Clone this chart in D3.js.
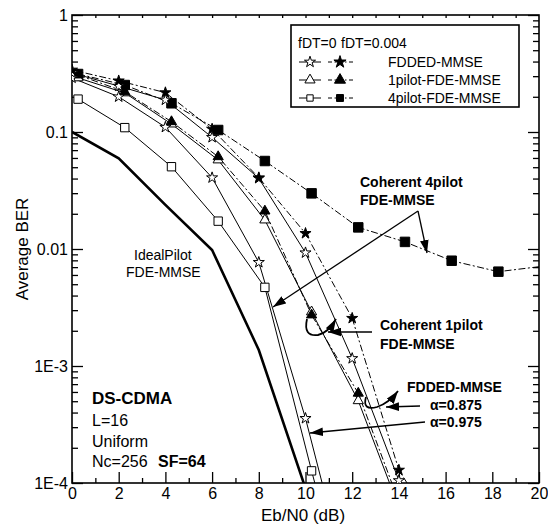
<!DOCTYPE html>
<html>
<head>
<meta charset="utf-8">
<script src="https://cdn.jsdelivr.net/npm/d3@7"></script>
<style>
  html, body { margin: 0; padding: 0; background: #fff; }
  svg { display: block; font-family: "Liberation Sans", Arial, sans-serif; }
</style>
</head>
<body>
<svg id="chart" width="548" height="532"></svg>
<script>
// ---------- data ----------
const xTickValues = [0, 2, 4, 6, 8, 10, 12, 14, 16, 18, 20];
const yTickValues = [1e-4, 1e-3, 1e-2, 1e-1, 1];
const yTickLabels = ["1E-4", "1E-3", "0.01", "0.1", "1"];

const ebnoStar  = [0, 2, 4, 6, 8, 10, 12, 14, 16];
const ebnoPilot = [0.26, 2.26, 4.26, 6.26, 8.26, 10.26, 12.26, 14.26, 16.26, 18.26, 20.26];
const ebnoIdeal = [0, 2, 4, 6, 8, 10];

const berIdeal = [0.1, 0.0596, 0.0238, 0.0098, 0.00137, 9e-5];
// FDDED-MMSE
const berFDDEDa975fd0   = [0.29, 0.20, 0.11, 0.0407, 0.00769, 3.57e-4, 1.0e-5];
const berFDDEDa875fd0   = [0.32, 0.247, 0.188, 0.090, 0.0402, 0.00929, 0.00116, 1.05e-4, 1.0e-5];
const berFDDEDa875fd004 = [0.339, 0.274, 0.217, 0.106, 0.0407, 0.0136, 0.00256, 1.29e-4, 3.0e-5];
// 1pilot-FDE-MMSE
const ber1pilotFd0   = [0.29, 0.216, 0.117, 0.0577, 0.0177, 0.0029, 5.05e-4, 4.5e-5];
const ber1pilotFd004 = [0.307, 0.221, 0.1225, 0.0615, 0.0211, 0.00273, 5.85e-4, 5.0e-5];
// 4pilot-FDE-MMSE
const ber4pilotFd0   = [0.191, 0.109, 0.0505, 0.0173, 0.0047, 1.27e-4, 4.0e-6];
const ber4pilotFd004 = [0.313, 0.252, 0.176, 0.104, 0.0565, 0.0299, 0.0153, 0.0115, 0.00794, 0.0064, 0.00716];

const legendHeader = ["fDT=0", "fDT=0.004"];
const legendLabels = ["FDDED-MMSE", "1pilot-FDE-MMSE", "4pilot-FDE-MMSE"];

// ---------- setup ----------
const svg = d3.select("#chart");
const L = 72, R = 539, T = 15, B = 483;
const x = d3.scaleLinear().domain([0, 20]).range([L, R]);
const y = d3.scaleLog().domain([1e-4, 1]).range([B, T]);
const DASHDOT = "7,2.5,2,2.5";
const FONT = "'Liberation Sans', Arial, sans-serif";

const defs = svg.append("defs");
defs.append("clipPath").attr("id", "clip")
  .append("rect").attr("x", L).attr("y", T).attr("width", R - L).attr("height", B - T);
defs.append("marker").attr("id", "arrow")
  .attr("viewBox", "0 0 12 8").attr("refX", 12).attr("refY", 4)
  .attr("markerWidth", 13).attr("markerHeight", 9)
  .attr("markerUnits", "userSpaceOnUse").attr("orient", "auto")
  .append("path").attr("d", "M0,0 L12,4 L0,8 Z").attr("fill", "#000");

// ---------- axes ----------
const minorX = d3.range(1, 20, 2);
const minorY = [];
for (let e = -4; e < 0; e++) for (let m = 2; m <= 9; m++) minorY.push(m * Math.pow(10, e));

function styleAxis(g) {
  g.select(".domain").remove();
  g.selectAll("line").attr("stroke", "#000").attr("stroke-width", 1.3);
  g.selectAll("text").attr("fill", "#000").style("font-family", FONT).style("font-size", "16px");
}

// bottom
svg.append("g").attr("transform", `translate(0,${B})`)
  .call(d3.axisBottom(x).tickValues(xTickValues).tickSize(-11).tickPadding(5).tickFormat(d3.format("d")))
  .call(styleAxis);
svg.append("g").attr("transform", `translate(0,${B})`)
  .call(d3.axisBottom(x).tickValues(minorX).tickSize(-5).tickFormat(""))
  .call(styleAxis);
// top
svg.append("g").attr("transform", `translate(0,${T})`)
  .call(d3.axisTop(x).tickValues(d3.range(1, 20)).tickSize(-3).tickFormat(""))
  .call(styleAxis);
// left
svg.append("g").attr("transform", `translate(${L},0)`)
  .call(d3.axisLeft(y).tickValues(yTickValues).tickSize(-11).tickPadding(4)
    .tickFormat((d, i) => yTickLabels[i]))
  .call(styleAxis);
svg.append("g").attr("transform", `translate(${L},0)`)
  .call(d3.axisLeft(y).tickValues(minorY).tickSize(-6).tickFormat(""))
  .call(styleAxis);
// right
svg.append("g").attr("transform", `translate(${R},0)`)
  .call(d3.axisRight(y).tickValues(yTickValues).tickSize(-11).tickFormat(""))
  .call(styleAxis);
svg.append("g").attr("transform", `translate(${R},0)`)
  .call(d3.axisRight(y).tickValues(minorY).tickSize(-6).tickFormat(""))
  .call(styleAxis);

// frame
svg.append("rect").attr("x", L).attr("y", T).attr("width", R - L).attr("height", B - T)
  .attr("fill", "none").attr("stroke", "#000").attr("stroke-width", 1.6);

// axis titles
svg.append("text").attr("x", 303).attr("y", 521).attr("text-anchor", "middle")
  .style("font-size", "17px").text("Eb/N0 (dB)");
svg.append("text").attr("transform", "translate(28,249) rotate(-90)").attr("text-anchor", "middle")
  .style("font-size", "17px").text("Average BER");

// ---------- series ----------
const line = d3.line().x(d => x(d[0])).y(d => y(d[1]));
const plot = svg.append("g").attr("clip-path", "url(#clip)");

const series = [
  { xs: ebnoIdeal, ys: berIdeal, dash: null, w: 2.6, sym: null },
  { xs: ebnoPilot, ys: ber4pilotFd0, dash: null, w: 1, sym: d3.symbolSquare, size: 70, fill: "#fff" },
  { xs: ebnoPilot, ys: ber4pilotFd004, dash: DASHDOT, w: 1, sym: d3.symbolSquare, size: 90, fill: "#000" },
  { xs: ebnoPilot, ys: ber1pilotFd0, dash: null, w: 1, sym: d3.symbolTriangle, size: 45, fill: "#fff" },
  { xs: ebnoPilot, ys: ber1pilotFd004, dash: DASHDOT, w: 1, sym: d3.symbolTriangle, size: 45, fill: "#000" },
  { xs: ebnoStar, ys: berFDDEDa975fd0, dash: null, w: 1, sym: d3.symbolStar, size: 38, fill: "#fff" },
  { xs: ebnoStar, ys: berFDDEDa875fd0, dash: null, w: 1, sym: d3.symbolStar, size: 38, fill: "#fff" },
  { xs: ebnoStar, ys: berFDDEDa875fd004, dash: DASHDOT, w: 1, sym: d3.symbolStar, size: 38, fill: "#000" }
];

series.forEach(s => {
  const pts = s.xs.slice(0, s.ys.length).map((v, i) => [v, s.ys[i]]);
  plot.append("path").attr("d", line(pts)).attr("fill", "none")
    .attr("stroke", "#000").attr("stroke-width", s.w)
    .attr("stroke-dasharray", s.dash);
});
series.forEach(s => {
  if (!s.sym) return;
  const pts = s.xs.slice(0, s.ys.length).map((v, i) => [v, s.ys[i]]);
  plot.selectAll(null).data(pts).enter().append("path")
    .attr("transform", d => `translate(${x(d[0])},${y(d[1])})`)
    .attr("d", d3.symbol().type(s.sym).size(s.size))
    .attr("fill", s.fill).attr("stroke", "#000").attr("stroke-width", 1);
});

// ---------- legend ----------
const lg = svg.append("g");
lg.append("rect").attr("x", 291).attr("y", 25).attr("width", 228).attr("height", 82)
  .attr("fill", "#fff").attr("stroke", "#000").attr("stroke-width", 1.6);
lg.append("text").attr("x", 298).attr("y", 48).style("font-size", "14px").text(legendHeader[0]);
lg.append("text").attr("x", 341).attr("y", 48).style("font-size", "14px").text(legendHeader[1]);
const legSyms = [
  [d3.symbolStar, 38], [d3.symbolTriangle, 45], [d3.symbolSquare, 40]
];
legendLabels.forEach((lab, i) => {
  const yy = 62 + i * 18;
  lg.append("line").attr("x1", 299).attr("x2", 321).attr("y1", yy).attr("y2", yy)
    .attr("stroke", "#000").attr("stroke-width", 1);
  lg.append("path").attr("transform", `translate(310,${yy})`)
    .attr("d", d3.symbol().type(legSyms[i][0]).size(legSyms[i][1]))
    .attr("fill", "#fff").attr("stroke", "#000");
  lg.append("line").attr("x1", 328).attr("x2", 353).attr("y1", yy).attr("y2", yy)
    .attr("stroke", "#000").attr("stroke-width", 1).attr("stroke-dasharray", "4,2.5,1.5,2.5");
  lg.append("path").attr("transform", `translate(340,${yy})`)
    .attr("d", d3.symbol().type(legSyms[i][0]).size(legSyms[i][1] + 8))
    .attr("fill", "#000").attr("stroke", "#000");
  lg.append("text").attr("x", 388).attr("y", yy + 5).style("font-size", "14px").text(lab);
});

// ---------- annotations ----------
const ann = svg.append("g");
function txt(xp, yp, s, size, bold) {
  ann.append("text").attr("x", xp).attr("y", yp).style("font-size", size + "px")
    .style("font-weight", bold ? "bold" : "normal").text(s);
}
txt(134, 260, "IdealPilot", 14, false);
txt(126, 277, "FDE-MMSE", 14, false);

txt(92, 404, "DS-CDMA", 17, true);
txt(92, 426, "L=16", 16, false);
txt(92, 447, "Uniform", 16, false);
txt(92, 467, "Nc=256", 16, false);
txt(158, 467, "SF=64", 16, true);

txt(360, 187, "Coherent 4pilot", 14, true);
txt(360, 205, "FDE-MMSE", 14, true);
txt(380, 330, "Coherent 1pilot", 14, true);
txt(380, 349, "FDE-MMSE", 14, true);
txt(407, 392, "FDDED-MMSE", 14, true);
txt(430, 410, "\u03b1=0.875", 14, true);
txt(430, 427, "\u03b1=0.975", 14, true);

function arrow(d, w) {
  ann.append("path").attr("d", d).attr("fill", "none").attr("stroke", "#000")
    .attr("stroke-width", w || 1.3).attr("marker-end", "url(#arrow)");
}
arrow("M418,211 L273,307");
arrow("M418,211 L427,253");
arrow("M372,332 L328,332");
arrow("M307,319 Q303,337 318,335 Q328,333 336,319", 1.8);
arrow("M420,406 L386,407");
arrow("M366,397 Q362,411 377,407 Q389,403 398,391", 1.8);
arrow("M425,422 L310,433");
</script>
</body>
</html>
